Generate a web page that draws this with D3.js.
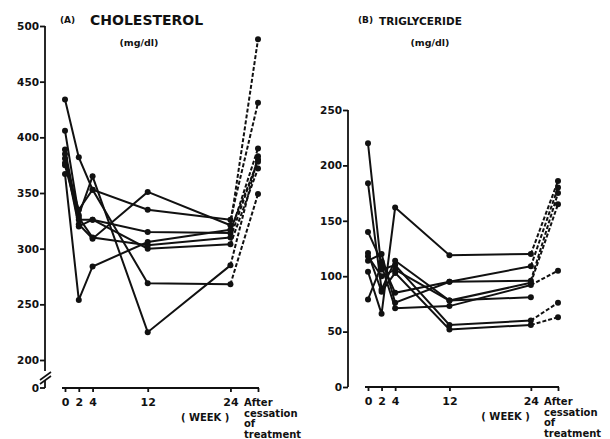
<!DOCTYPE html>
<html>
<head>
<meta charset="utf-8">
<script src="https://cdn.jsdelivr.net/npm/d3@7"></script>
<style>
  body { margin: 0; background: #fff; }
  svg { display: block; }
  text { font-family: "DejaVu Sans", sans-serif; font-weight: bold; fill: #111; }
</style>
</head>
<body>
<div id="chart"></div>
<script>
// x positions: weeks, "After" placed at 28
const weeks = [0, 2, 4, 12, 24, 28];
const weekLabels = ["0", "2", "4", "12", "24"];

// (A) cholesterol, mg/dl, one array per subject
const chol = [
  [434, 382, 353, 335, 326, 431],
  [406, 330, 365, 225, 285, 383],
  [389, 326, 326, 315, 314, 390],
  [385, 322, 309, 351, 321, 488],
  [381, 320, 326, 300, 304, 372],
  [377, 335, 353, 269, 268, 349],
  [375, 328, 310, 303, 310, 380],
  [367, 254, 284, 306, 317, 378]
];
const cholTicks = [200, 250, 300, 350, 400, 450, 500];

// (B) triglyceride, mg/dl (null = no value after cessation)
const trig = [
  [220, 106, 110, 56, 60, 76],
  [184, 88, 114, 78, 81, null],
  [140, 113, 85, 95, 109, 180],
  [121, 86, 103, 52, 56, 63],
  [114, 120, 76, 95, 96, 175],
  [104, 66, 162, 119, 120, 186],
  [79, 110, 71, 73, 92, 105],
  [118, 100, 106, 78, 94, 165]
];
const trigTicks = [0, 50, 100, 150, 200, 250];

const width = 610, height = 439;
const ink = "#111";
const svg = d3.select("#chart").append("svg").attr("width", width).attr("height", height);

function styleText(sel, size) {
  sel.attr("font-size", size).style("font-family", "DejaVu Sans, sans-serif")
    .style("font-weight", "bold").attr("fill", ink);
}

function panel(cfg) {
  const g = svg.append("g");
  const x = d3.scaleLinear().domain([0, 28]).range(cfg.xRange);
  const y = d3.scaleLinear().domain(cfg.yDomain).range(cfg.yRange);
  const base = cfg.baseY;

  // y axis
  const yAxis = d3.axisLeft(y).tickValues(cfg.yTicks).tickSize(5).tickPadding(1);
  const ya = g.append("g").attr("transform", `translate(${cfg.yAxisX},0)`).call(yAxis);
  ya.select(".domain").remove();
  ya.selectAll("line").attr("stroke", ink).attr("stroke-width", 1.8);
  styleText(ya.selectAll("text"), 10.5);

  if (cfg.broken) {
    g.append("line").attr("x1", cfg.yAxisX).attr("x2", cfg.yAxisX)
      .attr("y1", y(cfg.yDomain[1])).attr("y2", base - 17).attr("stroke", ink).attr("stroke-width", 1.8);
    g.append("line").attr("x1", cfg.yAxisX).attr("x2", cfg.yAxisX)
      .attr("y1", base - 8).attr("y2", base).attr("stroke", ink).attr("stroke-width", 1.8);
    [0, 4].forEach(o => {
      g.append("line").attr("x1", cfg.yAxisX - 5).attr("y1", base - 4 - o)
        .attr("x2", cfg.yAxisX + 6).attr("y2", base - 12 - o)
        .attr("stroke", ink).attr("stroke-width", 1.6);
    });
    g.append("line").attr("x1", cfg.yAxisX - 5).attr("x2", cfg.yAxisX).attr("y1", base).attr("y2", base)
      .attr("stroke", ink).attr("stroke-width", 1.8);
    styleText(g.append("text").attr("x", cfg.yAxisX - 6).attr("y", base + 4).attr("text-anchor", "end").text("0"), 10.5);
  } else {
    g.append("line").attr("x1", cfg.yAxisX).attr("x2", cfg.yAxisX)
      .attr("y1", y(cfg.yDomain[1])).attr("y2", base).attr("stroke", ink).attr("stroke-width", 1.8);
  }

  // x axis
  const xAxis = d3.axisBottom(x).tickValues(weeks).tickSize(4).tickFormat((d, i) => weekLabels[i] || "");
  const xa = g.append("g").attr("transform", `translate(0,${base})`).call(xAxis);
  xa.select(".domain").attr("d", `M${x(0) - 3},0H${x(28) + 1}`).attr("stroke", ink).attr("stroke-width", 1.8);
  xa.selectAll("line").attr("stroke", ink).attr("stroke-width", 1.8);
  styleText(xa.selectAll("text"), 11);
  xa.selectAll("text").attr("dy", "1.0em");

  const after = ["After", "cessation", "of", "treatment"];
  const at = g.append("text").attr("x", x(28) - 14).attr("y", base + 18);
  styleText(at, 10);
  at.selectAll("tspan").data(after).enter().append("tspan")
    .attr("x", x(28) - 14).attr("dy", (d, i) => i === 0 ? 0 : 10.5).text(d => d);
  styleText(g.append("text").attr("x", x(24) - 1).attr("y", base + 33).attr("text-anchor", "end").text("( WEEK )"), 10);

  // titles
  styleText(g.append("text").attr("x", cfg.titleX).attr("y", 23).text(cfg.tag), 9);
  styleText(g.append("text").attr("x", cfg.titleX + cfg.tagGap).attr("y", 25).text(cfg.title), cfg.titleSize);
  styleText(g.append("text").attr("x", cfg.unitX).attr("y", 46).attr("text-anchor", "middle").text("(mg/dl)"), 9.5);

  // subject lines
  const treat = d3.line().x((d, i) => x(weeks[i])).y(d => y(d));
  cfg.data.forEach(s => {
    g.append("path").attr("d", treat(s.slice(0, 5))).attr("fill", "none")
      .attr("stroke", ink).attr("stroke-width", 2);
    if (s[5] != null) {
      g.append("line").attr("x1", x(24)).attr("y1", y(s[4])).attr("x2", x(28)).attr("y2", y(s[5]))
        .attr("stroke", ink).attr("stroke-width", 2).attr("stroke-dasharray", "4,2");
    }
    g.selectAll(null).data(s.map((v, i) => [weeks[i], v]).filter(d => d[1] != null)).enter()
      .append("circle").attr("cx", d => x(d[0])).attr("cy", d => y(d[1])).attr("r", 3).attr("fill", ink);
  });
}

panel({
  data: chol, xRange: [65, 258], yDomain: [200, 500], yRange: [360, 26], yTicks: cholTicks,
  yAxisX: 45, baseY: 388, broken: true,
  titleX: 60, tagGap: 30, tag: "(A)", title: "CHOLESTEROL", titleSize: 14, unitX: 139
});
panel({
  data: trig, xRange: [368, 558], yDomain: [0, 250], yRange: [387, 110], yTicks: trigTicks,
  yAxisX: 348, baseY: 387, broken: false,
  titleX: 358, tagGap: 21, tag: "(B)", title: "TRIGLYCERIDE", titleSize: 10.5, unitX: 430
});
</script>
</body>
</html>
